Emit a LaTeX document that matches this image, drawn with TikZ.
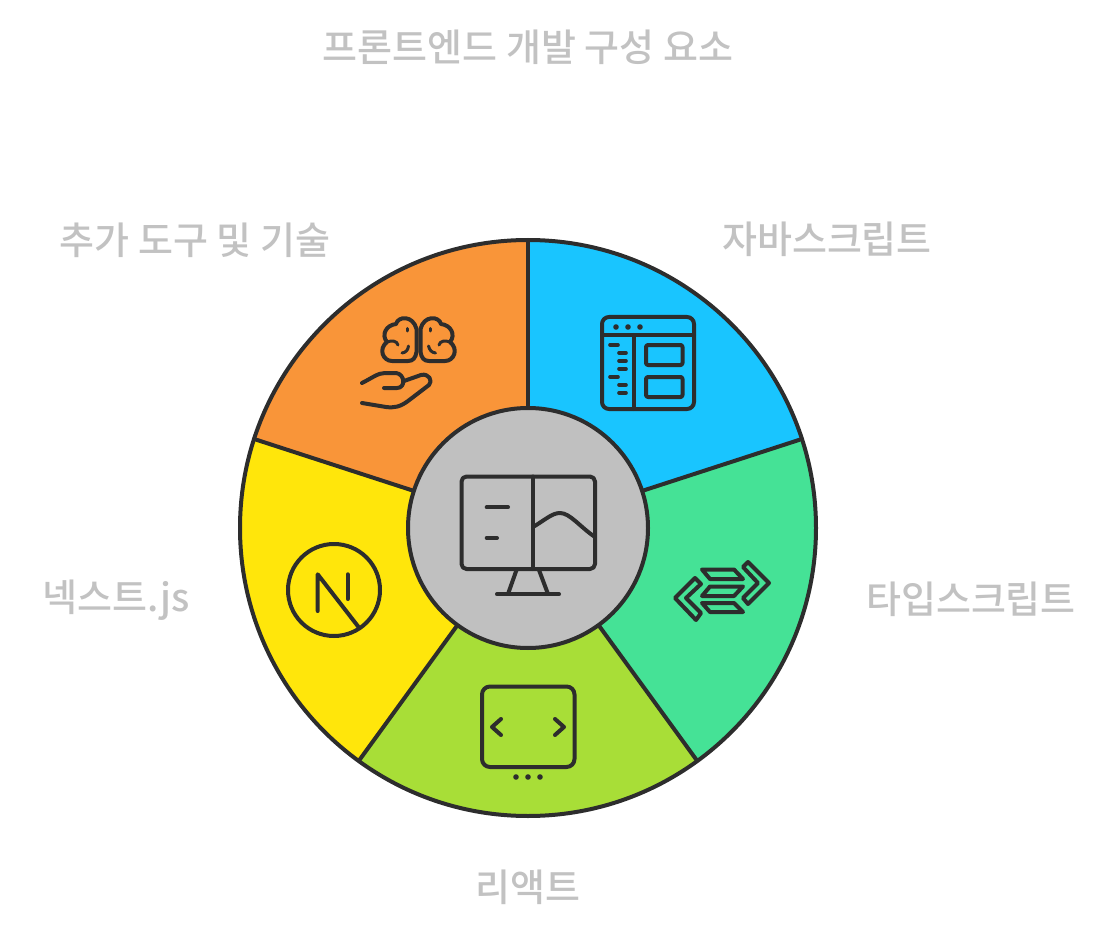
\documentclass[tikz,border=0pt]{standalone}
\usepackage{fontspec}
\newfontfamily\cjk{Noto Sans CJK KR Medium}
\definecolor{ink}{HTML}{2D2D2D}
\definecolor{lab}{HTML}{C2C2C2}
\definecolor{cBlue}{HTML}{19C5FF}
\definecolor{cGreen}{HTML}{45E296}
\definecolor{cLime}{HTML}{A8DE37}
\definecolor{cYellow}{HTML}{FFE60B}
\definecolor{cOrange}{HTML}{F99539}
\definecolor{cGrey}{HTML}{C0C0C0}
\tikzset{
  x=1pt,y=-1pt,
  seg/.style={draw=ink,line width=4pt,line join=round},
  ico/.style={draw=ink,line width=4pt,line cap=round,line join=round},
  thin ico/.style={ico,line width=3.6pt},
  fine ico/.style={ico,line width=3pt},
  lbl/.style={text=lab,font=\cjk\fontsize{38}{42}\selectfont,inner sep=0pt,anchor=center},
  dotmark/.style={fill=ink,draw=none}
}
\begin{document}
\begin{tikzpicture}
\useasboundingbox (0,0) rectangle (1104,936);
\coordinate (c) at (528,528);
\fill[cBlue] (c) -- (528,240) arc[start angle=-90,end angle=-18,radius=288] -- cycle;
\fill[cGreen] (c) -- (801.9,439) arc[start angle=-18,end angle=54,radius=288] -- cycle;
\fill[cLime] (c) -- (697.3,761) arc[start angle=54,end angle=126,radius=288] -- cycle;
\fill[cYellow] (c) -- (358.7,761) arc[start angle=126,end angle=198,radius=288] -- cycle;
\fill[cOrange] (c) -- (254.1,439) arc[start angle=198,end angle=270,radius=288] -- cycle;
\draw[seg] (c) -- (528,240);
\draw[seg] (c) -- (801.9,439);
\draw[seg] (c) -- (697.3,761);
\draw[seg] (c) -- (358.7,761);
\draw[seg] (c) -- (254.1,439);
\draw[seg] (c) circle[radius=288];
\draw[seg,fill=cGrey] (c) circle[radius=120];
% window icon
\draw[ico,rounded corners=7pt] (602,317) rectangle (694,409);
\draw[ico] (602,335) -- (694,335);
\draw[ico] (634,335) -- (634,409);
\foreach \x in {616,628,640} \fill[dotmark] (\x,327) circle[radius=2.8];
\draw[ico,rounded corners=2pt] (646,345) rectangle (682.5,365);
\draw[ico,rounded corners=2pt] (646,377) rectangle (682.5,397);
\foreach \y in {345,377} \draw[thin ico] (610,\y) -- (618,\y);
\foreach \y in {353,361,369,385,393} \draw[thin ico] (619,\y) -- (626,\y);
% brain and hand icon
\draw[ico] (416.5,352) .. controls (415.5,358) and (413,361) .. (408,361) -- (392,361)
  .. controls (383,361) and (378,349) .. (387,342)
  .. controls (381,335) and (386,325) .. (396,324)
  .. controls (398,316) and (413,315) .. (416.5,329) -- cycle;
\draw[ico] (420.5,352) .. controls (421.5,358) and (424,361) .. (429,361) -- (445,361)
  .. controls (454,361) and (459,349) .. (450,342)
  .. controls (456,335) and (451,325) .. (441,324)
  .. controls (439,316) and (424,315) .. (420.5,329) -- cycle;
\draw[fine ico] (407,328.5) -- (407,331);
\draw[fine ico] (430,328.5) -- (430,331);
\draw[fine ico] (387,342) .. controls (392,340) and (397,341) .. (398,345);
\draw[fine ico] (450,342) .. controls (445,340) and (440,341) .. (439,345);
\draw[fine ico] (408.5,346) .. controls (408,350) and (406,352.5) .. (402,353);
\draw[fine ico] (428.5,346) .. controls (429.5,350) and (431.5,352.5) .. (435.5,353);
\draw[ico] (362,383) .. controls (372,378) and (378,373) .. (385,373)
  -- (396,373) .. controls (405,374) and (406,388) .. (397,388) -- (384,388);
\draw[ico] (404,381) -- (421,375) .. controls (429,373) and (433,381) .. (429,385)
  -- (408,401) .. controls (400,407) and (394,408) .. (386,407) -- (362,403);
% monitor icon
\draw[ico,rounded corners=5pt] (461.5,476.5) rectangle (595,569);
\draw[ico] (532.7,476.5) -- (532.7,569);
\draw[ico] (486.7,507.3) -- (508,507.3);
\draw[ico] (486.7,538) -- (497,538);
\draw[ico] (533,527) .. controls (545,520) and (552,513) .. (560,513)
  .. controls (570,513) and (580,527) .. (595,537);
\draw[ico] (516.5,570) -- (508,594);
\draw[ico] (539,570) -- (548,594);
\draw[ico] (497,594.3) -- (559,594.3);
% type icon
\draw[ico] (695,578) -- (701,584) -- (686,598) -- (701,613) -- (696,620) -- (675,598) -- cycle;
\draw[ico] (748,562) -- (769,583) -- (748,604) -- (743,598) -- (758,583) -- (743,567) -- cycle;
\draw[ico] (702,569.5) -- (734,569.5) -- (743,579) -- (710,579) -- cycle;
\draw[ico] (710,586.5) -- (743,586.5) -- (734,596) -- (702,596) -- cycle;
\draw[ico] (702,603) -- (734,603) -- (743,612) -- (710,612) -- cycle;
% screen icon
\draw[ico,rounded corners=8pt] (482,686.5) rectangle (574.5,767);
\draw[ico] (501,719) -- (492,727) -- (501,735);
\draw[ico] (555,719) -- (564,727) -- (555,735);
\foreach \x in {516,528,540} \fill[dotmark] (\x,777) circle[radius=2.8];
% N icon
\draw[ico] (334,590) circle[radius=46];
\draw[ico] (317.7,611) -- (317.7,574.3) -- (358.3,626.7);
\draw[ico] (347.7,574.3) -- (347.7,599);
% labels
\node[lbl] (title) at (528,47) {프론트엔드 개발 구성 요소};
\node[lbl] (js) at (827,239) {자바스크립트};
\node[lbl] (ts) at (971,599) {타입스크립트};
\node[lbl] (react) at (528,887) {리액트};
\node[lbl] (next) at (116,600) {넥스트.js};
\node[lbl] (extra) at (195,240) {추가 도구 및 기술};
\end{tikzpicture}
\end{document}
